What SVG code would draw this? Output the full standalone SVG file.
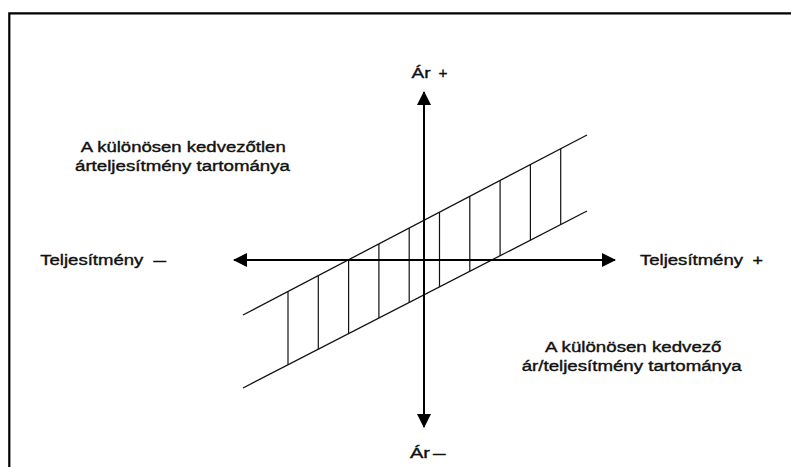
<svg xmlns="http://www.w3.org/2000/svg" width="791" height="467" viewBox="0 0 791 467">
  <style>
    .lbl { font-family: "Liberation Sans", Arial, sans-serif; font-size: 15.5px; fill: #111; stroke: #111; stroke-width: 0.4px; }
    .axis { stroke: #000; stroke-width: 2; fill: none; }
    .band { stroke: #111; stroke-width: 1.3; fill: none; }
    .hatch { stroke: #111; stroke-width: 1.2; fill: none; }
    .frame { stroke: #000; stroke-width: 2.2; fill: none; }
  </style>
  <defs>
    <marker id="arrow" markerUnits="userSpaceOnUse" viewBox="0 0 14 14" markerWidth="14" markerHeight="14" refX="13" refY="7" orient="auto-start-reverse">
      <path d="M0,0 L14,7 L0,14 Z" fill="#000"/>
    </marker>
  </defs>
  <rect width="791" height="467" fill="#fff"/>
  <path class="frame" d="M9.3,467 V13.3 H791"/>

  <g id="band">
    <line class="band" x1="243" y1="315" x2="587" y2="135"/>
    <line class="band" x1="243" y1="388" x2="587" y2="211"/>
    <g id="hatching">
      <line class="hatch" x1="288" y1="291.5" x2="288" y2="364.8"/>
      <line class="hatch" x1="318.3" y1="275.6" x2="318.3" y2="349.3"/>
      <line class="hatch" x1="348.6" y1="259.7" x2="348.6" y2="333.7"/>
      <line class="hatch" x1="378.9" y1="243.9" x2="378.9" y2="318.1"/>
      <line class="hatch" x1="409.2" y1="228" x2="409.2" y2="302.5"/>
      <line class="hatch" x1="439.5" y1="212.2" x2="439.5" y2="286.9"/>
      <line class="hatch" x1="469.8" y1="196.3" x2="469.8" y2="271.3"/>
      <line class="hatch" x1="500.1" y1="180.5" x2="500.1" y2="255.7"/>
      <line class="hatch" x1="530.4" y1="164.6" x2="530.4" y2="240.1"/>
      <line class="hatch" x1="560.7" y1="148.7" x2="560.7" y2="224.5"/>
    </g>
  </g>

  <g id="connectors">
    <line class="axis" x1="234" y1="260" x2="615" y2="260" marker-start="url(#arrow)" marker-end="url(#arrow)"/>
    <line class="axis" x1="424" y1="92" x2="424" y2="427" marker-start="url(#arrow)" marker-end="url(#arrow)"/>
  </g>

  <g id="label-ar-plus">
    <text class="lbl" y="78"><tspan x="411.5" textLength="19" lengthAdjust="spacingAndGlyphs">Ár</tspan> <tspan x="438.5" textLength="9" lengthAdjust="spacingAndGlyphs">+</tspan></text>
  </g>
  <g id="label-ar-minus">
    <text class="lbl" y="457.5"><tspan x="410" textLength="20" lengthAdjust="spacingAndGlyphs">Ár</tspan> <tspan x="433" textLength="12.5" lengthAdjust="spacingAndGlyphs">–</tspan></text>
  </g>
  <g id="label-telj-minus">
    <text class="lbl" y="264.5"><tspan x="40.3" textLength="103" lengthAdjust="spacingAndGlyphs">Teljesítmény</tspan> <tspan x="153.5" textLength="12.5" lengthAdjust="spacingAndGlyphs">–</tspan></text>
  </g>
  <g id="label-telj-plus">
    <text class="lbl" y="264.5"><tspan x="640" textLength="103" lengthAdjust="spacingAndGlyphs">Teljesítmény</tspan> <tspan x="752.5" textLength="10.5" lengthAdjust="spacingAndGlyphs">+</tspan></text>
  </g>
  <g id="label-kedvezotlen">
    <text class="lbl" x="80.7" y="152.3" textLength="205" lengthAdjust="spacingAndGlyphs">A különösen kedvezőtlen</text>
    <text class="lbl" x="75" y="170.5" textLength="215" lengthAdjust="spacingAndGlyphs">árteljesítmény tartománya</text>
  </g>
  <g id="label-kedvezo">
    <text class="lbl" x="545" y="352" textLength="176.5" lengthAdjust="spacingAndGlyphs">A különösen kedvező</text>
    <text class="lbl" x="521.7" y="370.5" textLength="220" lengthAdjust="spacingAndGlyphs">ár/teljesítmény tartománya</text>
  </g>
</svg>
